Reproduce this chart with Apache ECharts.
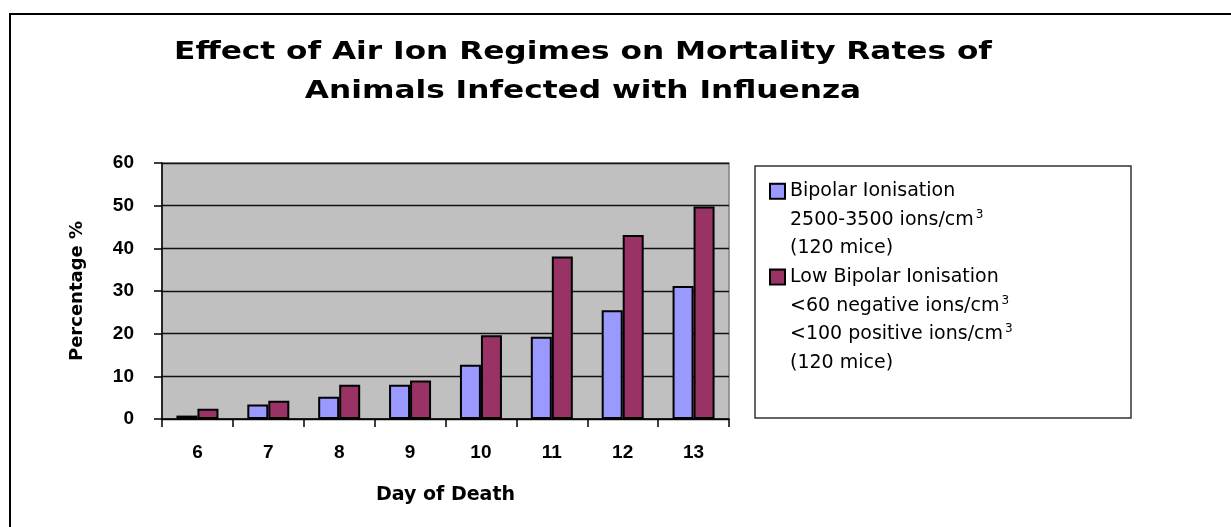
<!DOCTYPE html>
<html>
<head>
<meta charset="utf-8">
<script src="https://cdn.jsdelivr.net/npm/echarts@6/dist/echarts.min.js"></script>
<style>
  html, body { margin: 0; padding: 0; background: #fff; }
  #chart { width: 1231px; height: 527px; }
</style>
</head>
<body>
<div id="chart"></div>
<script>
// data
const days = ['6', '7', '8', '9', '10', '11', '12', '13'];
const bipolar = [0.8, 3.4, 5.2, 8.0, 12.7, 19.3, 25.5, 31.2];
const lowBipolar = [2.4, 4.3, 8.0, 9.0, 19.6, 38.1, 43.1, 49.8];
const yTicks = [0, 10, 20, 30, 40, 50, 60];

const seriesNames = ['Bipolar Ionisation', 'Low Bipolar Ionisation'];
// extra legend lines, [text, superscript]
const bipolarNotes = [['2500-3500 ions/cm', '3'], ['(120 mice)', '']];
const lowBipolarNotes = [['<60 negative ions/cm', '3'], ['<100 positive ions/cm', '3'], ['(120 mice)', '']];

const titleLines = ['Effect of Air Ion Regimes on Mortality Rates of', 'Animals Infected with Influenza'];

const chart = echarts.init(document.getElementById('chart'));

function legendText(name) {
  const first = name === seriesNames[0] ? '{box1|}' : '{box2|}';
  const notes = name === seriesNames[0] ? bipolarNotes : lowBipolarNotes;
  let out = first + '{t|' + name + '}';
  notes.forEach(function (n) {
    out += '\n{ind|}{t|' + n[0] + '}';
    if (n[1]) out += '{sup|' + n[1] + '}';
  });
  return out;
}

chart.setOption({
  animation: false,
  backgroundColor: '#fff',
  graphic: [
    // outer frame
    {
      type: 'rect', z: 0,
      shape: {x: 10, y: 14, width: 1300, height: 600},
      style: {fill: 'none', stroke: '#000', lineWidth: 2}
    },
    // legend box
    {
      type: 'rect', z: 0,
      shape: {x: 755, y: 166, width: 376, height: 252},
      style: {fill: 'none', stroke: '#333', lineWidth: 1.5}
    },
    {
      type: 'text', z: 10,
      x: 583, y: 72,
      scaleX: 1.3,
      style: {
        text: titleLines.join('\n'),
        fill: '#000',
        fontFamily: 'DejaVu Sans',
        fontWeight: 'bold',
        fontSize: 24,
        lineHeight: 39,
        align: 'center',
        verticalAlign: 'middle'
      }
    }
  ],
  grid: {
    left: 162, right: 502, top: 163, bottom: 108,
    show: true,
    backgroundColor: '#C0C0C0',
    borderColor: '#808080',
    borderWidth: 1.5
  },
  legend: {
    data: seriesNames,
    orient: 'vertical',
    left: 761,
    top: 172,
    icon: 'none',
    itemWidth: 0,
    itemHeight: 0,
    itemGap: 0,
    selectedMode: false,
    formatter: legendText,
    textStyle: {
      color: '#000',
      fontFamily: 'DejaVu Sans',
      fontSize: 19,
      lineHeight: 28.6,
      rich: {
        box1: {width: 13, height: 13, backgroundColor: '#9999FF', borderColor: '#000', borderWidth: 2},
        box2: {width: 13, height: 13, backgroundColor: '#993366', borderColor: '#000', borderWidth: 2},
        ind: {width: 13},
        t: {fontFamily: 'DejaVu Sans', fontSize: 19, color: '#000', padding: [0, 0, 0, 6], lineHeight: 28.6},
        sup: {fontFamily: 'DejaVu Sans', fontSize: 12, color: '#000', verticalAlign: 'top', padding: [3, 0, 0, 2]}
      }
    }
  },
  xAxis: {
    type: 'category',
    data: days,
    name: 'Day of Death',
    nameLocation: 'middle',
    nameGap: 67,
    nameTextStyle: {fontFamily: 'DejaVu Sans', fontWeight: 'bold', fontSize: 19, color: '#000'},
    axisLine: {lineStyle: {color: '#000', width: 1.5}},
    axisTick: {show: true, length: 8, lineStyle: {color: '#000', width: 1.5}},
    axisLabel: {margin: 24, fontFamily: 'Liberation Sans', fontWeight: 'bold', fontSize: 19, color: '#000'},
    splitLine: {show: false}
  },
  yAxis: {
    type: 'value',
    min: yTicks[0],
    max: yTicks[yTicks.length - 1],
    interval: 10,
    name: 'Percentage %',
    nameLocation: 'middle',
    nameGap: 76,
    nameTextStyle: {fontFamily: 'DejaVu Sans', fontWeight: 'bold', fontSize: 18, color: '#000'},
    axisLine: {show: true, lineStyle: {color: '#000', width: 1.5}},
    axisTick: {show: true, length: 8, lineStyle: {color: '#000', width: 1.5}},
    axisLabel: {margin: 28, fontFamily: 'Liberation Sans', fontWeight: 'bold', fontSize: 19, color: '#000'},
    splitLine: {show: true, lineStyle: {color: '#111', width: 1.4}}
  },
  series: [
    {
      name: seriesNames[0],
      type: 'bar',
      data: bipolar,
      barWidth: 21,
      barGap: '0%',
      itemStyle: {color: '#9999FF', borderColor: '#000', borderWidth: 2}
    },
    {
      name: seriesNames[1],
      type: 'bar',
      data: lowBipolar,
      barWidth: 21,
      barGap: '0%',
      itemStyle: {color: '#993366', borderColor: '#000', borderWidth: 2}
    }
  ]
});
</script>
</body>
</html>
